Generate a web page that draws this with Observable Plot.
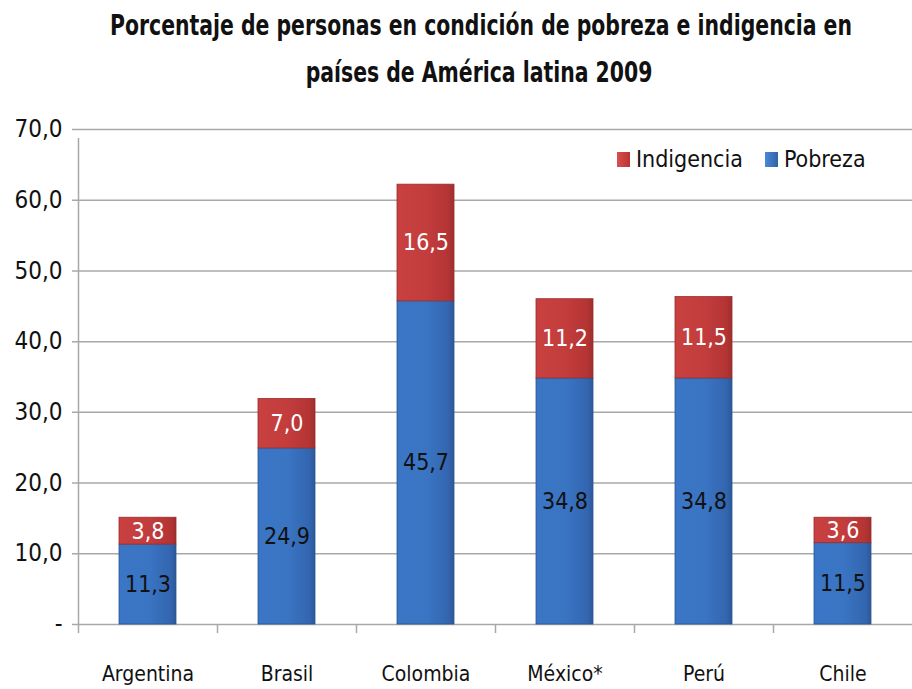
<!DOCTYPE html>
<html>
<head>
<meta charset="utf-8">
<script src="https://cdn.jsdelivr.net/npm/d3@7"></script>
<script src="https://cdn.jsdelivr.net/npm/@observablehq/plot@0.6"></script>
<style>
  html, body { margin: 0; padding: 0; background: #fff; }
  body { width: 912px; height: 689px; position: relative; overflow: hidden;
         font-family: "DejaVu Sans Condensed", "Open Sans", sans-serif; }
  #title { position: absolute; left: 0; top: 0; width: 912px;
           font-weight: bold; font-size: 28px; line-height: 47px; color: #111; padding-top: 2px; }
  #title .ln { display: block; width: 912px; text-align: center; white-space: nowrap; }
  #title .ln span { display: inline-block; transform-origin: 50% 50%; }
  #chart { position: absolute; left: 0; top: 95px; }
  #legend { position: absolute; left: 617px; top: 146px; font-size: 23px; color: #111;
            display: flex; align-items: center; white-space: nowrap; }
  .sw { display: inline-block; width: 13px; height: 15px; margin-right: 6px; }
</style>
</head>
<body>
<div id="title"><div class="ln"><span>Porcentaje de personas en condición de pobreza e indigencia en</span></div><div class="ln"><span>países de América latina 2009</span></div></div>
<div id="chart"></div>
<div id="legend">
  <span class="sw" style="background:linear-gradient(90deg,#d85050,#b83434)"></span><span>Indigencia</span>
  <span class="sw" style="margin-left:22px;background:linear-gradient(90deg,#4a88d8,#2f63a8)"></span><span>Pobreza</span>
</div>
<script>
const paises = ["Argentina", "Brasil", "Colombia", "México*", "Perú", "Chile"];
const pobreza = [11.3, 24.9, 45.7, 34.8, 34.8, 11.5];
const indigencia = [3.8, 7.0, 16.5, 11.2, 11.5, 3.6];
const series = ["Pobreza", "Indigencia"];
const yTicks = [0, 10, 20, 30, 40, 50, 60, 70];

const data = [];
paises.forEach((p, i) => data.push({pais: p, tipo: "Pobreza", valor: pobreza[i]}));
paises.forEach((p, i) => data.push({pais: p, tipo: "Indigencia", valor: indigencia[i]}));

const fmt = v => v.toFixed(1).replace(".", ",");
const FONT = '"DejaVu Sans Condensed", "Open Sans", sans-serif';

const chart = Plot.plot({
  width: 912,
  height: 594,
  marginLeft: 78,
  marginRight: 0,
  marginTop: 34,
  marginBottom: 65,
  style: {fontFamily: FONT, fontSize: "22px", color: "#111", background: "transparent"},
  x: {domain: paises, padding: 0, label: null},
  y: {domain: [0, 70], label: null},
  color: {type: "ordinal", domain: series, range: ["url(#gBlue)", "url(#gRed)"]},
  marks: [
    Plot.ruleY(yTicks, {stroke: "#a8a8a8", strokeWidth: 1.5, insetLeft: -6}),
    Plot.axisY({ticks: yTicks, tickSize: 0, tickPadding: 16, fontSize: 24,
                tickFormat: d => d === 0 ? "-" : fmt(d), label: null}),
    Plot.ruleX(paises, {x: d => d, dx: -69.5, y1: 0, y2: 0, insetBottom: -9, stroke: "#a8a8a8", strokeWidth: 1.5}),
    Plot.ruleX([paises[0]], {x: d => d, dx: -69.5, y1: 0, y2: 70, insetBottom: -9, stroke: "#a8a8a8", strokeWidth: 1.5}),
    Plot.barY(data, {x: "pais", y: "valor", fill: "tipo", insetLeft: 41, insetRight: 41,
                     stroke: d => d.tipo === "Pobreza" ? "#2a558f" : "#9a2c2c", strokeWidth: 0.8}),
    Plot.text(data, Plot.stackY({x: "pais", y: "valor", text: d => fmt(d.valor),
                     fill: d => d.tipo === "Pobreza" ? "#111" : "#fff", fontSize: 23})),
    Plot.axisX({tickSize: 0, tickPadding: 42, fontSize: 21, label: null})
  ]
});

const defs = d3.select(chart).insert("defs", ":first-child");
function grad(id, stops) {
  const g = defs.append("linearGradient").attr("id", id)
    .attr("x1", "0").attr("y1", "0").attr("x2", "1").attr("y2", "0");
  stops.forEach(([o, c]) => g.append("stop").attr("offset", o).attr("stop-color", c));
}
grad("gBlue", [[0, "#3b76c6"], [0.5, "#3a75c4"], [0.9, "#3366b0"], [1, "#2c5898"]]);
grad("gRed", [[0, "#c84040"], [0.5, "#c43d3d"], [0.9, "#b43434"], [1, "#9e2e2e"]]);

document.getElementById("chart").appendChild(chart);

// Fit the title's first line to the reference width (about 742px), same scale for both lines
const spans = document.querySelectorAll("#title .ln span");
const k = 742 / spans[0].getBoundingClientRect().width;
spans.forEach(s => { s.style.transform = `translateX(23px) scaleX(${k})`; });
</script>
</body>
</html>
